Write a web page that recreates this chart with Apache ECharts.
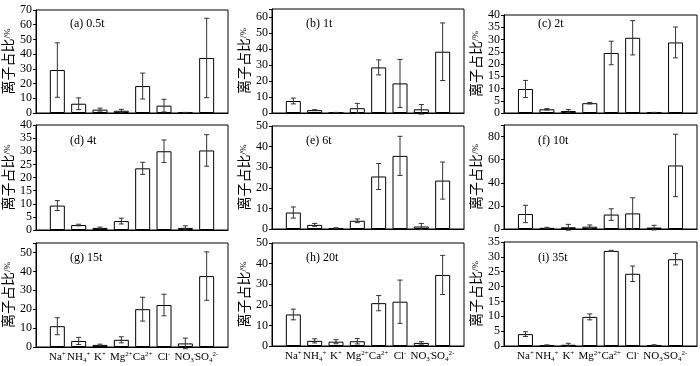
<!DOCTYPE html>
<html>
<head>
<meta charset="utf-8">
<script src="https://cdn.jsdelivr.net/npm/echarts@6/dist/echarts.min.js"></script>
<style>
html,body{margin:0;padding:0;background:#fff;}
#chart{width:700px;height:366px;}
</style>
</head>
<body>
<div id="chart"></div>
<script>
// ---- data ----
var categories = ['Na{sup|+}', 'NH{sub|4}{sup|+}', 'K{sup|+}', 'Mg{sup|2+}', 'Ca{sup|2+}', 'Cl{sup|-}', 'NO{sub|3}{sup|-}', 'SO{sub|4}{sup|2-}'];
var panelTitles = ['(a) 0.5t', '(b) 1t', '(c) 2t', '(d) 4t', '(e) 6t', '(f) 10t', '(g) 15t', '(h) 20t', '(i) 35t'];
var yMax = [70, 65, 40, 40, 50, 90, 55, 50, 35];
var yInterval = [10, 10, 5, 5, 10, 20, 10, 10, 5];

var vals_a = [29.2, 6.3, 2.3, 1.5, 18.3, 5.0, 0.3, 37.4];
var errs_a = [18.5, 4.0, 1.0, 1.0, 8.8, 4.3, 0.1, 27.0];
var vals_b = [7.5, 1.8, 0.3, 3.0, 28.5, 18.5, 2.3, 38.3];
var errs_b = [1.8, 0.3, 0.1, 3.0, 4.7, 15.0, 3.0, 18.0];
var vals_c = [9.8, 1.5, 0.8, 4.0, 24.5, 30.7, 0.2, 28.8];
var errs_c = [3.5, 0.3, 0.6, 0.3, 4.8, 7.0, 0.05, 6.3];
var vals_d = [9.3, 1.9, 0.8, 3.4, 23.5, 30.0, 0.8, 30.3];
var errs_d = [1.9, 0.3, 0.3, 1.1, 2.3, 4.3, 0.8, 6.0];
var vals_e = [8.0, 2.0, 0.4, 4.0, 25.5, 35.5, 1.2, 23.5];
var errs_e = [2.7, 0.7, 0.2, 0.9, 6.3, 9.5, 1.5, 9.0];
var vals_f = [13.0, 1.0, 1.5, 2.0, 12.5, 13.5, 1.2, 55.0];
var errs_f = [7.5, 0.5, 2.5, 1.5, 5.0, 13.5, 2.0, 27.0];
var vals_g = [11.0, 3.2, 1.1, 3.8, 20.0, 22.2, 1.9, 37.5];
var errs_g = [4.5, 1.9, 0.4, 1.6, 6.3, 5.7, 2.8, 12.8];
var vals_h = [15.3, 2.5, 2.1, 2.3, 20.8, 21.5, 1.5, 34.5];
var errs_h = [2.6, 1.0, 1.0, 1.3, 3.7, 10.5, 0.6, 9.5];
var vals_i = [4.0, 0.3, 0.4, 9.8, 32.0, 24.3, 0.3, 29.2];
var errs_i = [0.8, 0.05, 0.5, 1.0, 0.2, 2.6, 0.1, 1.9];

var allVals = [vals_a, vals_b, vals_c, vals_d, vals_e, vals_f, vals_g, vals_h, vals_i];
var allErrs = [errs_a, errs_b, errs_c, errs_d, errs_e, errs_f, errs_g, errs_h, errs_i];

// ---- layout ----
var colLeft = [36, 272, 504];
var colWidth = [192, 192, 193];
var gridTop = [10, 9, 15, 125, 126, 125, 243, 243, 242];
var gridHeight = [103, 104, 98, 105, 103, 104, 104, 103, 104];
var titleTop = [18, 18, 18, 135, 135, 135, 252, 252, 252];

var serif = 'Liberation Serif, Times New Roman, serif';
var cjk = 'Noto Sans CJK SC, sans-serif';

var grids = [], xAxes = [], yAxes = [], series = [], titles = [];
for (var p = 0; p < 9; p++) {
  var col = p % 3, row = Math.floor(p / 3);
  grids.push({
    left: colLeft[col], width: colWidth[col], top: gridTop[p], height: gridHeight[p],
    show: true, borderColor: '#000', borderWidth: 1, backgroundColor: 'transparent'
  });
  xAxes.push({
    gridIndex: p, type: 'value', min: -1, max: 8, interval: 1,
    axisLine: {show: true, onZero: false, lineStyle: {color: '#000', width: 1}},
    axisTick: {show: false}, splitLine: {show: false},
    axisLabel: {
      show: row === 2, margin: 4, color: '#000', fontFamily: serif, fontSize: 11,
      formatter: function (v) { return (v >= 0 && v <= 7) ? categories[v] : ''; },
      rich: {
        sup: {fontSize: 7, fontFamily: serif, color: '#000', verticalAlign: 'top', lineHeight: 13},
        sub: {fontSize: 7, fontFamily: serif, color: '#000', verticalAlign: 'bottom', lineHeight: 13}
      },
      lineHeight: 13
    }
  });
  yAxes.push({
    gridIndex: p, type: 'value', min: 0, max: yMax[p], interval: yInterval[p],
    axisLine: {show: true, onZero: false, lineStyle: {color: '#000', width: 1}},
    axisTick: {show: true, inside: false, length: 3, lineStyle: {color: '#000'}},
    splitLine: {show: false},
    axisLabel: {color: '#000', fontFamily: serif, fontSize: 12, margin: 4},
    name: '{a|离子占比}{b|/%}', nameLocation: 'middle', nameRotate: 90, nameGap: 21,
    nameTextStyle: {
      rich: {
        a: {fontFamily: cjk, fontSize: 14, color: '#000'},
        b: {fontFamily: serif, fontSize: 9, color: '#000'}
      }
    }
  });
  var v = allVals[p], e = allErrs[p];
  var barData = [], errData = [];
  for (var k = 0; k < v.length; k++) {
    barData.push([k, v[k]]);
    errData.push([k, v[k], e[k]]);
  }
  series.push({
    type: 'bar', xAxisIndex: p, yAxisIndex: p, data: barData, barWidth: 15,
    itemStyle: {color: '#fff', borderColor: '#000', borderWidth: 1},
    silent: true, animation: false, z: 2
  });
  series.push({
    type: 'custom', xAxisIndex: p, yAxisIndex: p, data: errData, silent: true, animation: false, z: 3,
    renderItem: function (params, api) {
      var x = api.value(0), m = api.value(1), d = api.value(2);
      var hi = api.coord([x, m + d]);
      var lo = api.coord([x, m - d]);
      var cw = 2.5;
      var st = {stroke: '#333', lineWidth: 1};
      return {
        type: 'group',
        children: [
          {type: 'line', shape: {x1: hi[0], y1: hi[1], x2: lo[0], y2: lo[1]}, style: st},
          {type: 'line', shape: {x1: hi[0] - cw, y1: hi[1], x2: hi[0] + cw, y2: hi[1]}, style: st},
          {type: 'line', shape: {x1: lo[0] - cw, y1: lo[1], x2: lo[0] + cw, y2: lo[1]}, style: st}
        ]
      };
    }
  });
  titles.push({
    text: panelTitles[p], left: colLeft[col] + 34, top: titleTop[p], padding: 0,
    textStyle: {fontFamily: serif, fontSize: 12, fontWeight: 'normal', color: '#000'}
  });
}
// hide non-multiple max labels (e.g. 65, 55, 90)
yAxes.forEach(function (ax, i) {
  ax.axisLabel.formatter = function (val) { return (Math.round(val) % yInterval[i] === 0) ? String(val) : ''; };
});

var chart = echarts.init(document.getElementById('chart'), null, {renderer: 'canvas'});
chart.setOption({
  animation: false,
  backgroundColor: '#fff',
  title: titles,
  grid: grids,
  xAxis: xAxes,
  yAxis: yAxes,
  series: series
});
</script>
</body>
</html>
